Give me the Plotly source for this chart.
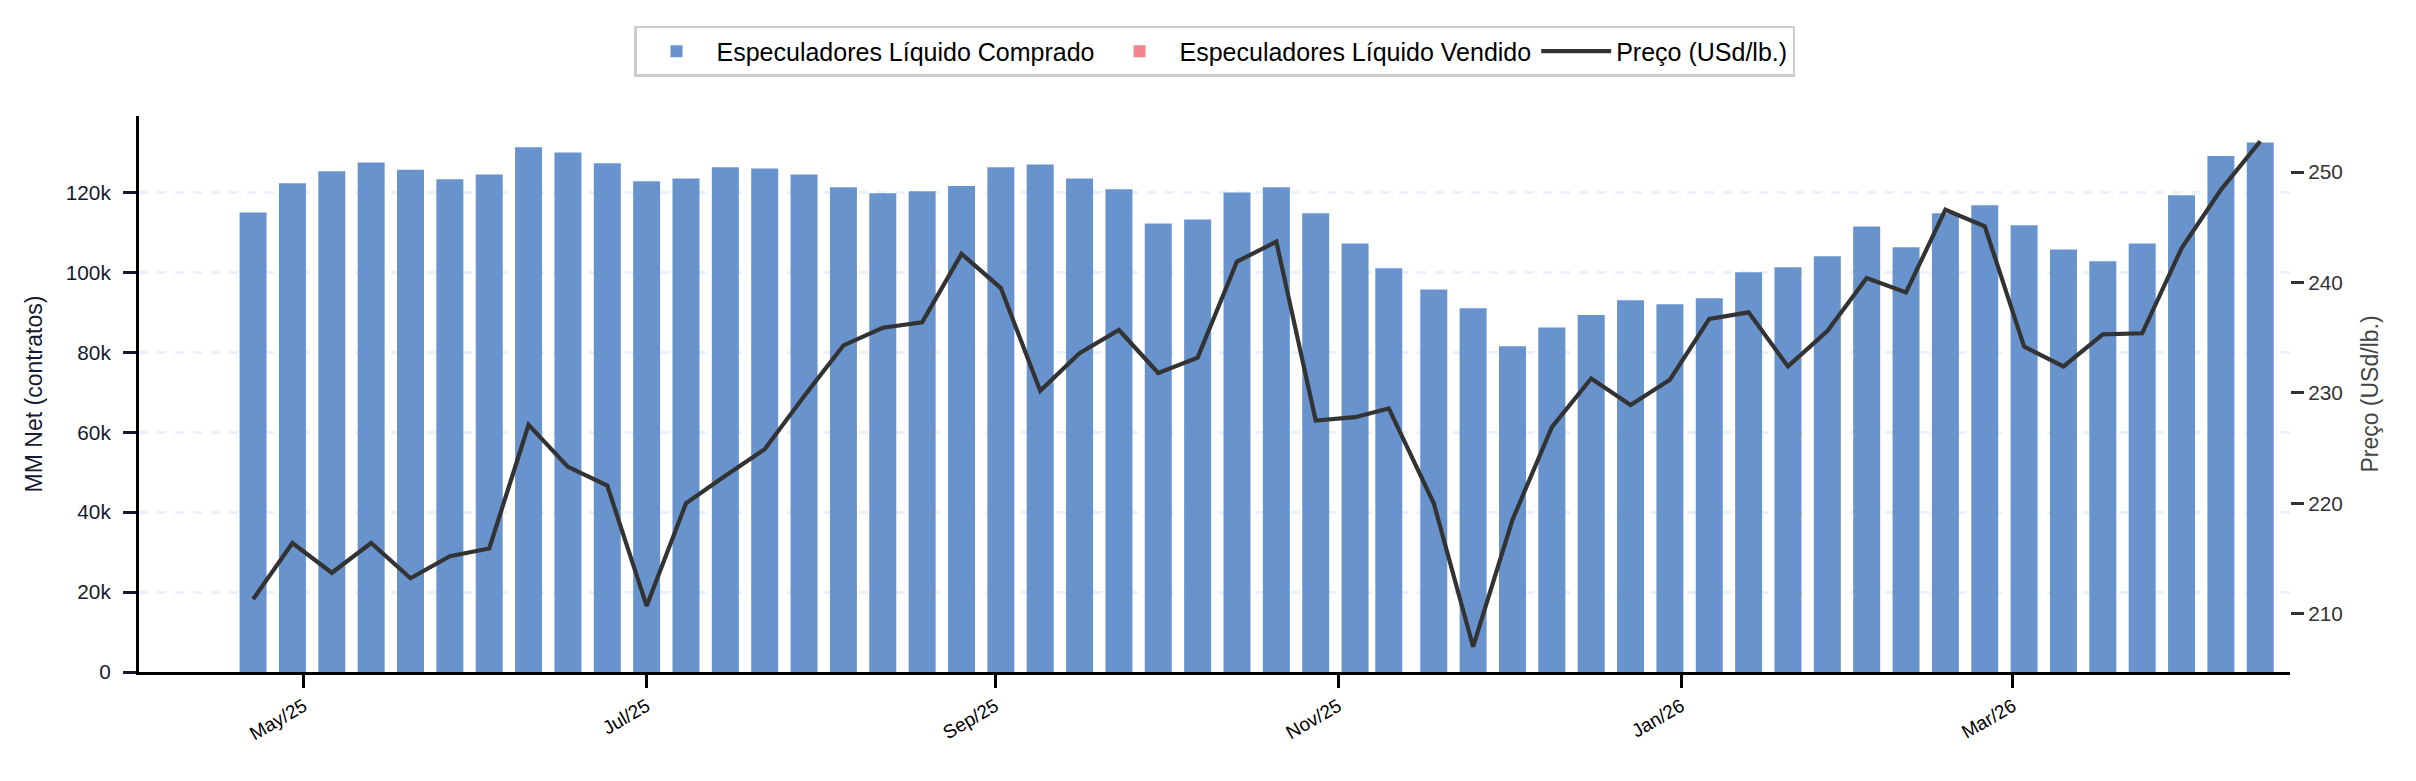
import plotly.graph_objects as go

# ---- data ----
dates = [
    "2025-04-22", "2025-04-29", "2025-05-06", "2025-05-13", "2025-05-20", "2025-05-27",
    "2025-06-03", "2025-06-10", "2025-06-17", "2025-06-24", "2025-07-01", "2025-07-08",
    "2025-07-15", "2025-07-22", "2025-07-29", "2025-08-05", "2025-08-12", "2025-08-19",
    "2025-08-26", "2025-09-02", "2025-09-09", "2025-09-16", "2025-09-23", "2025-09-30",
    "2025-10-07", "2025-10-14", "2025-10-21", "2025-10-28", "2025-11-04", "2025-11-10",
    "2025-11-18", "2025-11-25", "2025-12-02", "2025-12-09", "2025-12-16", "2025-12-23",
    "2025-12-30", "2026-01-06", "2026-01-13", "2026-01-20", "2026-01-27", "2026-02-03",
    "2026-02-10", "2026-02-17", "2026-02-24", "2026-03-03", "2026-03-10", "2026-03-17",
    "2026-03-24", "2026-03-31", "2026-04-07", "2026-04-14",
]

mm_net = [
    115000, 122300, 125300, 127500, 125700, 123300, 124500, 131300, 130000, 127300,
    122800, 123500, 126300, 126000, 124500, 121300, 119800, 120300, 121600, 126300,
    127000, 123500, 120800, 112200, 113200, 120000, 121300, 114800, 107200, 101000,
    95700, 91000, 81500, 86200, 89300, 93000, 92000, 93500, 100000, 101300,
    104000, 111500, 106300, 114800, 116800, 111800, 105700, 102800, 107200, 119300,
    129100, 132500,
]

price = [
    211.3, 216.4, 213.7, 216.4, 213.2, 215.2, 215.9, 227.1, 223.3, 221.6,
    210.7, 220.0, 222.5, 224.9, 229.7, 234.3, 235.9, 236.4, 242.6, 239.5,
    230.2, 233.6, 235.7, 231.8, 233.2, 241.9, 243.7, 227.5, 227.8, 228.6,
    220.0, 207.0, 218.5, 226.9, 231.3, 228.9, 231.2, 236.7, 237.3, 232.4,
    235.6, 240.4, 239.1, 246.6, 245.1, 234.2, 232.4, 235.3, 235.4, 243.1,
    248.4, 252.8,
]

tick_dates = ["2025-05-01", "2025-07-01", "2025-09-01", "2025-11-01", "2026-01-01", "2026-03-01"]
tick_labels = ["May/25", "Jul/25", "Sep/25", "Nov/25", "Jan/26", "Mar/26"]
y_ticks = [0, 20000, 40000, 60000, 80000, 100000, 120000]
y_labels = ["0", "20k", "40k", "60k", "80k", "100k", "120k"]

comprado = [v if v >= 0 else None for v in mm_net]
vendido = [v if v < 0 else None for v in mm_net]

FONT = "Liberation Sans, Arial, sans-serif"
DAY_MS = 86400000
bar_w = 4.8 * DAY_MS

fig = go.Figure()
fig.add_trace(go.Bar(
    x=dates, y=comprado, name="Especuladores Líquido Comprado",
    marker=dict(color="#6893cd", line=dict(width=0)), width=bar_w,
))
fig.add_trace(go.Bar(
    x=dates, y=vendido, name="Especuladores Líquido Vendido",
    marker=dict(color="#f4848c", line=dict(width=0)), width=bar_w,
))
fig.add_trace(go.Scatter(
    x=dates, y=price, name="Preço (USd/lb.)", yaxis="y2", mode="lines",
    line=dict(color="#333333", width=4.2),
))

ymax = max(mm_net) * 1.05
pmin, pmax = min(price), max(price)
pad = (pmax - pmin) * 0.05

fig.update_layout(
    width=2416, height=781,
    margin=dict(l=139, r=126, t=116, b=109),
    paper_bgcolor="white", plot_bgcolor="white",
    barmode="relative",
    font=dict(family=FONT, color="#000000"),
    showlegend=True,
    legend=dict(
        orientation="h", x=0.5, xanchor="center", y=1.162, yanchor="top",
        font=dict(size=25, color="#000000", family=FONT),
        bordercolor="#cccccc", borderwidth=2.5, bgcolor="white",
        itemwidth=70,
    ),
    xaxis=dict(
        type="date",
        range=["2025-04-01 17:00", "2026-04-19 07:00"],
        tickmode="array", tickvals=tick_dates, ticktext=tick_labels,
        tickangle=-30, tickfont=dict(size=19, color="#000000", family=FONT),
        ticks="outside", ticklen=13, tickwidth=2.5, tickcolor="#000000",
        showline=True, linecolor="#000000", linewidth=3,
        showgrid=False, zeroline=False, automargin=False,
    ),
    yaxis=dict(
        range=[0, ymax],
        tickmode="array", tickvals=y_ticks, ticktext=y_labels,
        tickfont=dict(size=20.8, color="#151a30", family=FONT),
        ticks="outside", ticklen=13, tickwidth=2.5, tickcolor="#151a30",
        ticklabelstandoff=8,
        showline=True, linecolor="#000000", linewidth=3,
        showgrid=True, gridcolor="#e8f0fb", gridwidth=2.5, griddash="dash",
        zeroline=False, automargin=False,
        title=dict(text="MM Net (contratos)", font=dict(size=23, color="#151a30", family=FONT), standoff=17),
    ),
    yaxis2=dict(
        overlaying="y", side="right",
        range=[pmin - pad, pmax + pad],
        tick0=210, dtick=10,
        tickfont=dict(size=20.8, color="#333333", family=FONT),
        ticks="outside", ticklen=13, tickwidth=2.5, tickcolor="#333333",
        showline=False, showgrid=False, zeroline=False, automargin=False,
        title=dict(text="Preço (USd/lb.)", font=dict(size=23, color="#444444", family=FONT), standoff=20),
    ),
)

fig.write_html("out.html")
